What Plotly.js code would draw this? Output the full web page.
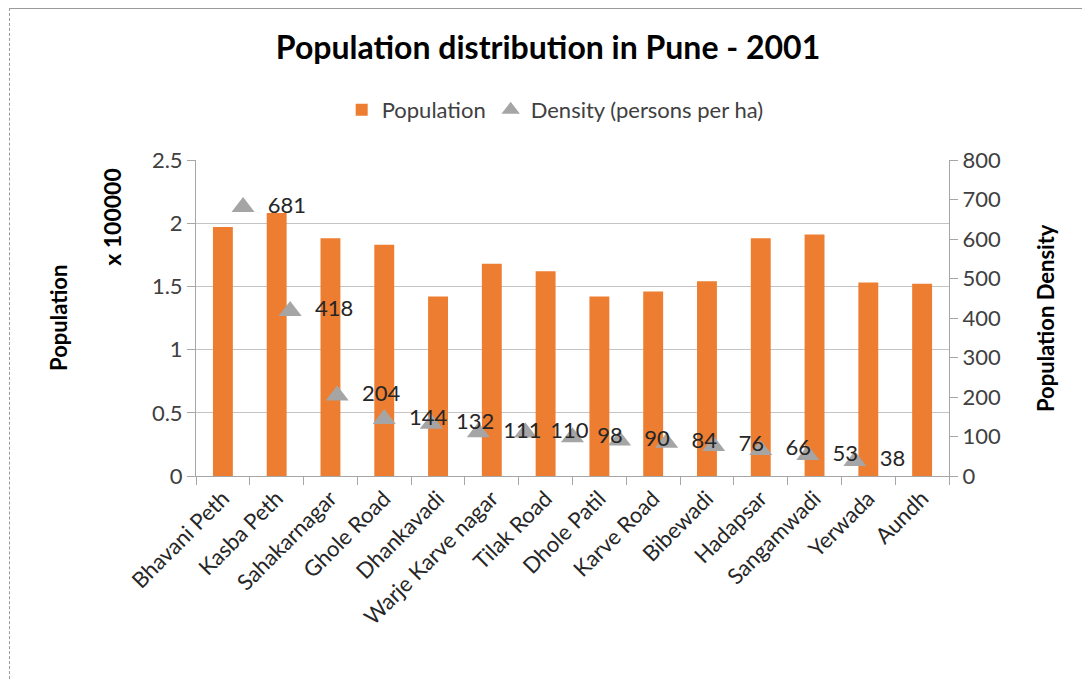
<!DOCTYPE html>
<html>
<head>
<meta charset="utf-8">
<script src="https://cdn.plot.ly/plotly-3.0.1.min.js"></script>
<style>
  html, body { margin: 0; padding: 0; background: #fff; }
  #wrap { position: relative; width: 1082px; height: 681px; }
  #chart { width: 1082px; height: 681px; }
  #frame { position: absolute; left: 9px; top: 8px; width: 1080px; height: 680px;
           border-top: 1px solid #9a9a9a; border-left: 1px dashed #9a9a9a; pointer-events: none; }
</style>
</head>
<body>
<div id="wrap">
  <div id="chart"></div>
  <div id="frame"></div>
</div>
<script>
const categories = ["Bhavani Peth", "Kasba Peth", "Sahakarnagar", "Ghole Road", "Dhankavadi",
  "Warje Karve nagar", "Tilak Road", "Dhole Patil", "Karve Road", "Bibewadi",
  "Hadapsar", "Sangamwadi", "Yerwada", "Aundh"];
const population = [1.97, 2.08, 1.88, 1.83, 1.42, 1.68, 1.62, 1.42, 1.46, 1.54, 1.88, 1.91, 1.53, 1.52]; // x 100000
const density = [681, 418, 204, 144, 132, 111, 110, 98, 90, 84, 76, 66, 53, 38]; // persons per ha
const leftTicks = [0, 0.5, 1, 1.5, 2, 2.5];
const rightTicks = [0, 100, 200, 300, 400, 500, 600, 700, 800];

const FONT = "Lato, 'Open Sans', sans-serif";
const PAD = "\u00a0\u00a0";

const traces = [
  {
    type: "bar",
    name: "Population",
    x: categories,
    y: population,
    xaxis: "x",
    yaxis: "y",
    marker: { color: "#ED7D31" },
    hoverinfo: "x+y"
  },
  {
    type: "scatter",
    mode: "markers+text",
    name: "Density (persons per ha)",
    x: categories,
    y: density,
    xaxis: "x2",
    yaxis: "y2",
    text: density.map(v => PAD + String(v)),
    textposition: "middle right",
    textfont: { family: FONT, size: 22, color: "#262626" },
    marker: { symbol: "triangle-up", size: 20, color: "#A5A5A5" },
    cliponaxis: false
  }
];

const layout = {
  width: 1082,
  height: 681,
  margin: { l: 196, r: 133, t: 160, b: 205 },
  paper_bgcolor: "#ffffff",
  plot_bgcolor: "#ffffff",
  font: { family: FONT, size: 22, color: "#404040" },
  title: {
    text: "<b>Population distribution in Pune - 2001</b>",
    font: { family: FONT, size: 32, color: "#000000" },
    xref: "container", yref: "container",
    x: 0.5065, y: 0.9295, xanchor: "center", yanchor: "middle"
  },
  showlegend: true,
  legend: {
    orientation: "h",
    x: 0.477, y: 1.158, xanchor: "center", yanchor: "middle",
    font: { family: FONT, size: 22, color: "#404040" },
    itemwidth: 30,
    traceorder: "normal"
  },
  bargap: 0.63,
  xaxis: {
    type: "category",
    categoryorder: "array",
    categoryarray: categories,
    tickangle: -45,
    ticks: "outside",
    ticklen: 8,
    tickcolor: "#a6a6a6",
    tickson: "boundaries",
    showline: true,
    linecolor: "#a6a6a6",
    linewidth: 1,
    showgrid: false,
    zeroline: false,
    tickfont: { family: FONT, size: 22, color: "#262626" },
    fixedrange: true
  },
  xaxis2: {
    type: "category",
    overlaying: "x",
    range: [-1, 15],
    visible: false,
    fixedrange: true
  },
  yaxis: {
    range: [0, 2.5],
    tickvals: leftTicks,
    ticktext: leftTicks.map(String),
    ticks: "outside",
    ticklen: 8,
    tickcolor: "#a6a6a6",
    showline: true,
    linecolor: "#a6a6a6",
    showgrid: true,
    gridcolor: "#c4c4c4",
    gridwidth: 1,
    zeroline: false,
    tickfont: { family: FONT, size: 22, color: "#404040" },
    fixedrange: true
  },
  yaxis2: {
    overlaying: "y",
    side: "right",
    range: [0, 800],
    tickvals: rightTicks,
    ticks: "outside",
    ticklen: 8,
    tickcolor: "#a6a6a6",
    showline: true,
    linecolor: "#a6a6a6",
    showgrid: false,
    zeroline: false,
    tickfont: { family: FONT, size: 22, color: "#404040" },
    fixedrange: true
  },
  annotations: [
    { text: "<b>Population</b>", xref: "paper", yref: "paper", x: -0.1833, y: 0.5,
      textangle: -90, showarrow: false, xanchor: "center", yanchor: "middle",
      font: { family: FONT, size: 22, color: "#000000" } },
    { text: "<b>x 100000</b>", xref: "paper", yref: "paper", x: -0.1116, y: 0.82,
      textangle: -90, showarrow: false, xanchor: "center", yanchor: "middle",
      font: { family: FONT, size: 23, color: "#000000" } },
    { text: "<b>Population Density</b>", xref: "paper", yref: "paper", x: 1.1275, y: 0.5,
      textangle: -90, showarrow: false, xanchor: "center", yanchor: "middle",
      font: { family: FONT, size: 22, color: "#000000" } }
  ]
};

Plotly.newPlot("chart", traces, layout, { displayModeBar: false });
</script>
</body>
</html>
